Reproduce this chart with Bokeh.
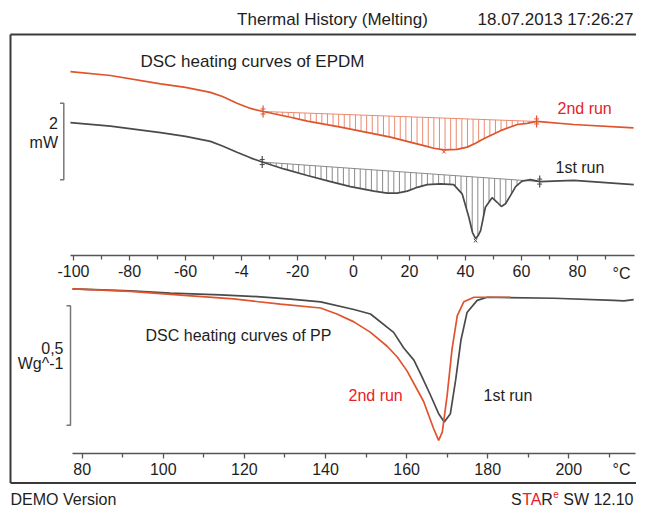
import numpy as np
from bokeh.plotting import figure
from bokeh.models import Range1d, LinearAxis, FixedTicker, Label
from bokeh.embed import file_html
from bokeh.resources import INLINE

# ---------------- data ----------------
# EPDM (upper panel): temperature in degC, heat flow in mW (arbitrary offset)
epdm_run2_T = [-101.1, -86.8, -68.9, -60.0, -51.1, -46.8, -41.4, -36.8, -32.3, -22.5, -16.5,
               -4.6, 13.2, 25.1, 28.7, 32.3, 37.0, 40.6, 43.6, 46.5, 52.5, 58.5, 62.0, 65.4,
               78.6, 100.0]
epdm_run2_mW = [4.80, 4.70, 4.48, 4.39, 4.26, 4.15, 3.97, 3.84, 3.76, 3.61, 3.51,
                3.35, 3.09, 2.87, 2.80, 2.76, 2.77, 2.83, 2.93, 3.05, 3.26, 3.42, 3.45, 3.50,
                3.42, 3.33]
epdm_run1_T = [-101.1, -86.8, -68.9, -60.0, -51.1, -46.8, -41.4, -36.8, -32.6, -24.9, -16.5,
               -8.2, -1.1, 7.3, 12.0, 15.6, 19.2, 22.8, 26.3, 31.1, 35.8, 38.8, 41.2, 42.5,
               43.6, 44.6, 45.4, 47.1, 49.5, 51.3, 52.8, 54.3, 56.1, 57.9, 60.2, 63.2, 66.5,
               78.7, 100.1]
epdm_run1_mW = [3.47, 3.38, 3.21, 3.11, 2.98, 2.86, 2.69, 2.55, 2.44, 2.26, 2.09,
                1.93, 1.80, 1.68, 1.63, 1.63, 1.68, 1.78, 1.85, 1.87, 1.85, 1.61, 1.00, 0.60,
                0.44, 0.53, 0.65, 1.26, 1.51, 1.39, 1.28, 1.35, 1.57, 1.80, 1.94, 1.98, 1.93,
                1.96, 1.85]
epdm_run2_limits = [-32.3, 65.4]
epdm_run1_limits = [-32.6, 66.5]

# PP (lower panel): temperature in degC, heat flow in W/g (baseline ~0)
pp_run1_T = [77.6, 91.9, 101.8, 114.1, 124.0, 131.4, 138.8, 147.0, 151.1, 156.8, 159.3,
             161.8, 163.8, 165.9, 167.9, 169.3, 170.8, 172.1, 173.4, 174.9, 177.4, 179.9,
             196.3, 211.1, 213.6, 216.0]
pp_run1_W = [0.035, 0.027, 0.017, 0.010, 0.002, -0.008, -0.019, -0.051, -0.070, -0.147, -0.212,
             -0.263, -0.333, -0.410, -0.487, -0.522, -0.487, -0.346, -0.180, -0.064, -0.013, 0.000,
             -0.004, -0.013, -0.015, -0.010]
pp_run2_T = [77.6, 91.9, 106.0, 117.3, 128.9, 138.8, 142.8, 147.0, 151.1, 155.2, 157.7,
             160.1, 164.2, 166.7, 167.9, 168.8, 170.0, 171.2, 172.5, 174.1, 176.6, 185.6]
pp_run2_W = [0.035, 0.025, 0.007, -0.007, -0.029, -0.045, -0.070, -0.103, -0.147, -0.205, -0.250,
             -0.308, -0.436, -0.551, -0.599, -0.564, -0.410, -0.218, -0.077, -0.019, 0.000, 0.000]

top_ticks = [-100, -80, -60, -40, -20, 0, 20, 40, 60, 80]
top_tick_labels = ["-100", "-80", "-60", "-4", "-20", "0", "20", "40", "60", "80"]
top_minor_ticks = [-90, -70, -50, -30, -10, 10, 30, 50, 70, 90]
bottom_ticks = [80, 100, 120, 140, 160, 180, 200]
bottom_tick_labels = ["80", "100", "120", "140", "160", "180", "200"]
bottom_minor_ticks = [90, 110, 130, 150, 170, 190, 210]
scale_top_mW = 2.0
scale_bottom_W = 0.5

# ---------------- layout ----------------
W, H = 636, 510
FONT = "Liberation Sans"
RED_LINE = "#e0532c"
RED_TEXT = "#e8202a"
DARK_LINE = "#4a4a4a"
TXT = "#1e1e1e"

# vertical layout: keep upper part 1:1, compress lower part slightly to fit the canvas
YC, K = 260.0, (499.0 - 260.0) / (520.0 - 260.0)


def Y(y):
    return y if y <= YC else YC + (y - YC) * K


# panel placement (canvas pixels): px = ox + sx*T ; py = oy - sy*value
TOP = dict(ox=353.0, sx=2.8, oy=255.0, sy=38.3)
BOT = dict(ox=81.7 - 4.055 * 80, sx=4.055, oy=Y(300.0), sy=260.0 * K)


def xr(m):
    return Range1d((0 - m["ox"]) / m["sx"], (W - m["ox"]) / m["sx"])


def yr(m):
    return Range1d((m["oy"] - H) / m["sy"], (m["oy"] - 0) / m["sy"])


p = figure(width=W, height=H, output_backend="svg", toolbar_location=None,
           x_axis_type=None, y_axis_type=None,
           x_range=Range1d(0, W), y_range=Range1d(H, 0),
           min_border=0)
p.outline_line_color = None
p.background_fill_color = "white"
p.border_fill_color = "white"
p.extra_x_ranges = {"tT": xr(TOP), "bT": xr(BOT)}
p.extra_y_ranges = {"tP": yr(TOP), "bP": yr(BOT)}

# frame
FRAME = "#3a3a3a"
p.line([10, W], [34, 34], line_color=FRAME, line_width=2)
p.line([10, 10], [34, Y(502)], line_color=FRAME, line_width=2)
p.line([10, W], [Y(502), Y(502)], line_color=FRAME, line_width=2)


def style_axis(ax):
    ax.axis_line_color = "#555555"
    ax.axis_line_width = 1.5
    ax.major_tick_line_color = "#555555"
    ax.minor_tick_line_color = "#555555"
    ax.major_tick_line_width = 1.3
    ax.minor_tick_line_width = 1.3
    ax.major_tick_in = 0
    ax.major_tick_out = 5
    ax.minor_tick_in = 0
    ax.minor_tick_out = 4
    ax.major_label_text_font = FONT
    ax.major_label_text_font_size = "16px"
    ax.major_label_text_color = TXT
    ax.major_label_standoff = 4


# axes
top_axis = LinearAxis(x_range_name="tT", y_range_name="tP", fixed_location=0,
                      ticker=FixedTicker(ticks=top_ticks, minor_ticks=top_minor_ticks),
                      major_label_overrides=dict(zip(top_ticks, top_tick_labels)),
                      bounds=(-101, 100.5))
style_axis(top_axis)
p.add_layout(top_axis, "below")

bot_axis = LinearAxis(x_range_name="bT", y_range_name="bP",
                      fixed_location=(300.0 - 470.0) / 260.0,
                      ticker=FixedTicker(ticks=bottom_ticks, minor_ticks=bottom_minor_ticks),
                      major_label_overrides=dict(zip(bottom_ticks, bottom_tick_labels)),
                      bounds=(77.6, 216.4))
style_axis(bot_axis)
p.add_layout(bot_axis, "below")


# hatched integration areas (top panel)
def hatch(T, y, lim, step=2.0):
    T = np.asarray(T, float)
    y = np.asarray(y, float)
    ya = np.interp(lim[0], T, y)
    yb = np.interp(lim[1], T, y)
    xs = np.arange(lim[0] + step / 2, lim[1], step)
    base = ya + (yb - ya) * (xs - lim[0]) / (lim[1] - lim[0])
    curve = np.interp(xs, T, y)
    return xs, base, curve, ya, yb


for T, y, lim, col, hcol in [(epdm_run2_T, epdm_run2_mW, epdm_run2_limits, RED_LINE, "#ea8a70"),
                             (epdm_run1_T, epdm_run1_mW, epdm_run1_limits, DARK_LINE, "#8a8a8a")]:
    xs, base, curve, ya, yb = hatch(T, y, lim)
    p.segment(x0=xs, y0=base, x1=xs, y1=curve, line_color=hcol, line_width=1,
              x_range_name="tT", y_range_name="tP")
    p.line(lim, [ya, yb], line_color=hcol, line_width=1,
           x_range_name="tT", y_range_name="tP")
    d = 6 / TOP["sy"]
    p.segment(x0=lim, y0=[ya - d, yb - d], x1=lim, y1=[ya + d, yb + d],
              line_color=col, line_width=1.2, x_range_name="tT", y_range_name="tP")
    dd = 2.5 / TOP["sy"]
    p.scatter(x=lim + lim, y=[ya - dd, yb - dd, ya + dd, yb + dd], marker="dash", size=5,
              line_color=col, line_width=1, x_range_name="tT", y_range_name="tP")
    k = int(np.argmin(y))
    p.scatter(x=[T[k]], y=[y[k] - 2 / TOP["sy"]], marker="x", size=5, line_color=col,
              line_width=1, x_range_name="tT", y_range_name="tP")

# curves
p.line(epdm_run2_T, epdm_run2_mW, line_color=RED_LINE, line_width=1.7,
       x_range_name="tT", y_range_name="tP")
p.line(epdm_run1_T, epdm_run1_mW, line_color=DARK_LINE, line_width=1.7,
       x_range_name="tT", y_range_name="tP")
p.line(pp_run1_T, pp_run1_W, line_color=DARK_LINE, line_width=1.7,
       x_range_name="bT", y_range_name="bP")
p.line(pp_run2_T, pp_run2_W, line_color=RED_LINE, line_width=1.7,
       x_range_name="bT", y_range_name="bP")

# scale bars
tb0 = (255.0 - 179.3) / 38.3
p.multi_line(xs=[[59.5, 63.3, 63.3, 59.5]], ys=[[tb0, tb0, tb0 + scale_top_mW, tb0 + scale_top_mW]],
             line_color="#777777", line_width=1.5, y_range_name="tP")
bb0 = (300.0 - 439.3) / 260.0
p.multi_line(xs=[[66, 70, 70, 66]], ys=[[bb0, bb0, bb0 + scale_bottom_W, bb0 + scale_bottom_W]],
             line_color="#777777", line_width=1.5, y_range_name="bP")


def lab(x, y, text, align="left", color=TXT, size="16px"):
    p.add_layout(Label(x=x, y=y, text=text, text_align=align, text_baseline="middle",
                       text_font=FONT, text_font_size=size, text_color=color))


lab(332, 19, "Thermal History (Melting)", "center", size="17px")
lab(633, 19, "18.07.2013 17:26:27", "right", size="17px")
lab(140, 61, "DSC heating curves of EPDM", size="17px")
lab(557, 108, "2nd run", color=RED_TEXT)
lab(555, 167, "1st run")
lab(57.5, 122, "2", "right")
lab(57.5, 142, "mW", "right")
lab(621, 273, "°C", "center")
lab(145, Y(342), "DSC heating curves of PP")
lab(348, Y(407), "2nd run", color=RED_TEXT)
lab(483, Y(407), "1st run")
lab(63, Y(355), "0,5", "right")
lab(63, Y(372), "Wg^-1", "right")
lab(621, Y(487), "°C", "center")
lab(10, Y(520), "DEMO Version")
# STARe SW 12.10 (mixed colours)
fy = Y(520)
r = 633
lab(r, fy, "SW 12.10", "right")
r -= 70.3 + 4.5
lab(r, fy - 6, "e", "right", RED_TEXT, "10px")
r -= 5.8
lab(r, fy, "R", "right")
r -= 11.5
lab(r, fy, "TA", "right", RED_TEXT)
r -= 19.8
lab(r, fy, "S", "right")

open("out.html", "w").write(file_html(p, INLINE))
